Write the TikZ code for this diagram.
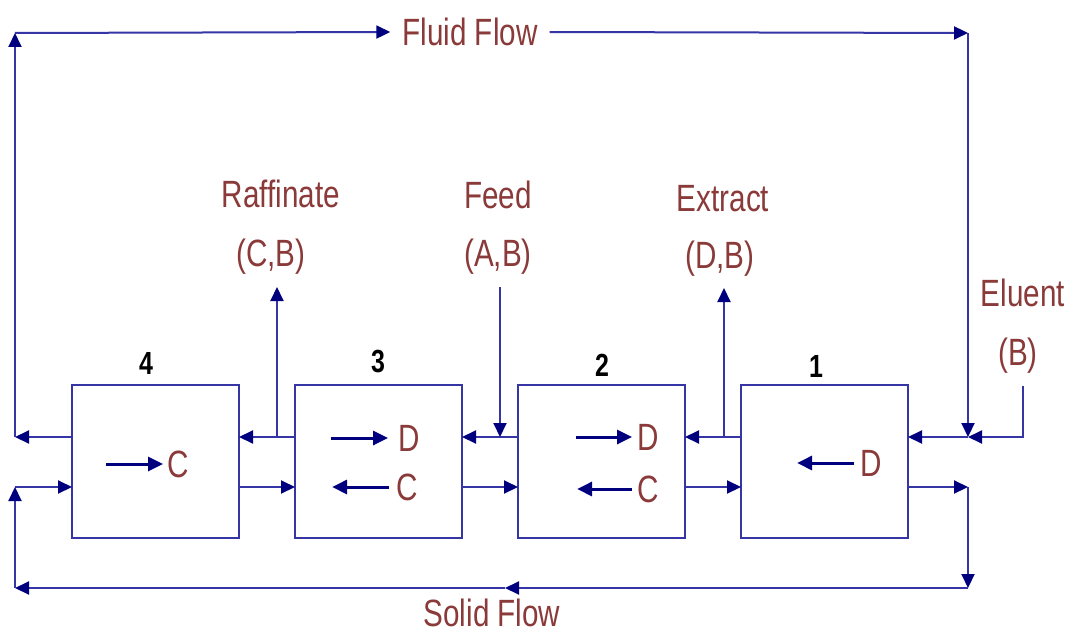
\documentclass[tikz,border=0pt]{standalone}
\usepackage{fontspec}
\setmainfont[FakeStretch=0.78]{Liberation Sans}
\usetikzlibrary{arrows.meta,positioning}
\definecolor{ink}     {HTML}{8B3A3A}
\definecolor{wire}    {HTML}{3535A5}
\definecolor{navytip} {HTML}{00007F}
\tikzset{
  zonebox/.style={
    rectangle, draw=wire, line width=2pt,
    minimum width=167pt, minimum height=153pt,
    inner sep=0pt, outer sep=0pt
  },
  flowarrow/.style={
    -{Triangle[length=14pt, width=13pt, color=navytip]}, line width=2pt, draw=wire
  },
  innerarrow/.style={
    -{Triangle[length=15pt, width=14pt]}, line width=3pt, draw=navytip
  },
  streamlabel/.style={text=ink, font=\fontsize{38}{44}\selectfont, inner sep=0pt},
  zonenum/.style={text=black, font=\fontsize{32}{36}\selectfont\bfseries, inner sep=0pt}
}

\begin{document}
\begin{tikzpicture}[x=1pt, y=-1pt, node distance=56pt]
  \fill[white] (0,0) rectangle (1070,634);
  \useasboundingbox (0,0) rectangle (1070,634);

  % the four zones
  \node[zonebox] (z4) at (155.5,461.5) {};
  \node[zonebox, right=of z4] (z3) {};
  \node[zonebox, right=of z3] (z2) {};
  \node[zonebox, right=of z2] (z1) {};
  \node[zonenum] (n4) at (146,363) {4};
  \node[zonenum] (n3) at (378,362) {3};
  \node[zonenum] (n2) at (602,365) {2};
  \node[zonenum] (n1) at (816,366) {1};

  % port levels and corners
  \coordinate (up) at (0,437);
  \coordinate (lo) at (0,487);
  \coordinate (ftl) at (15,33);
  \coordinate (ftr) at (968,33);
  \coordinate (fdl) at (15,437);
  \coordinate (erj) at (968,437);
  \coordinate (etop) at (1023,386);
  \coordinate (slr) at (968,487);
  \coordinate (sbr) at (968,588);
  \coordinate (smid) at (505,588);
  \coordinate (sbl) at (15,588);
  \coordinate (sll) at (15,487);
  \coordinate (rj) at (277,437);
  \coordinate (rtop) at (277,287);
  \coordinate (fj) at (500,437);
  \coordinate (ftop) at (500,287);
  \coordinate (xj) at (724,437);
  \coordinate (xtop) at (724,288);

  % stream labels
  \node[streamlabel, inner xsep=12pt] (fluid) at (470,32) {Fluid Flow};
  \node[streamlabel] (solid) at (492,613) {Solid Flow};
  \node[streamlabel] (raff) at (281,194) {Raffinate};
  \node[streamlabel] (raffcb) at (271,257) {(C,B)};
  \node[streamlabel] (feed) at (498,195) {Feed};
  \node[streamlabel] (feedab) at (498,257) {(A,B)};
  \node[streamlabel] (extr) at (723,199) {Extract};
  \node[streamlabel] (extrdb) at (720,259) {(D,B)};
  \node[streamlabel] (elu) at (1023,293) {Eluent};
  \node[streamlabel] (elub) at (1018,356) {(B)};

  % fluid loop
  \draw[flowarrow] (ftl) -- (fluid.west);
  \draw[flowarrow] (fluid.east) -- (ftr);
  \draw[flowarrow] (ftr) -- (erj);
  \draw[flowarrow] (etop) |- (erj);
  \draw[flowarrow] (erj) -- (z1.east |- up);
  \draw[flowarrow] (z1.west |- up) -- (z2.east |- up);
  \draw[flowarrow] (xj) -- (xtop);
  \draw[flowarrow] (z2.west |- up) -- (z3.east |- up);
  \draw[flowarrow] (ftop) -- (fj);
  \draw[flowarrow] (z3.west |- up) -- (z4.east |- up);
  \draw[flowarrow] (rj) -- (rtop);
  \draw[flowarrow] (z4.west |- up) -- (fdl);
  \draw[flowarrow] (fdl) -- (ftl);

  % solid loop
  \draw[flowarrow] (sll) -- (z4.west |- lo);
  \draw[flowarrow] (z4.east |- lo) -- (z3.west |- lo);
  \draw[flowarrow] (z3.east |- lo) -- (z2.west |- lo);
  \draw[flowarrow] (z2.east |- lo) -- (z1.west |- lo);
  \draw[flowarrow] (z1.east |- lo) -- (slr);
  \draw[flowarrow] (slr) -- (sbr);
  \draw[flowarrow] (sbr) -- (smid);
  \draw[flowarrow] (smid) -- (sbl);
  \draw[flowarrow] (sbl) -- (sll);

  % species inside the zones
  \node[streamlabel] (c4) at (178,464) {C};
  \node[streamlabel] (d3) at (409,438) {D};
  \node[streamlabel] (c3) at (407,487) {C};
  \node[streamlabel] (d2) at (648,437) {D};
  \node[streamlabel] (c2) at (648,489) {C};
  \node[streamlabel] (d1) at (871,463) {D};
  \draw[innerarrow] ([xshift=-61pt]c4.west) -- ([xshift=-4pt]c4.west);
  \draw[innerarrow] ([xshift=-67pt]d3.west) -- ([xshift=-10pt]d3.west);
  \draw[innerarrow] ([xshift=-7pt]c3.west) -- ([xshift=-64pt]c3.west);
  \draw[innerarrow] ([xshift=-61pt]d2.west) -- ([xshift=-5pt]d2.west);
  \draw[innerarrow] ([xshift=-5pt]c2.west) -- ([xshift=-60pt]c2.west);
  \draw[innerarrow] ([xshift=-6pt]d1.west) -- ([xshift=-63pt]d1.west);
\end{tikzpicture}
\end{document}
